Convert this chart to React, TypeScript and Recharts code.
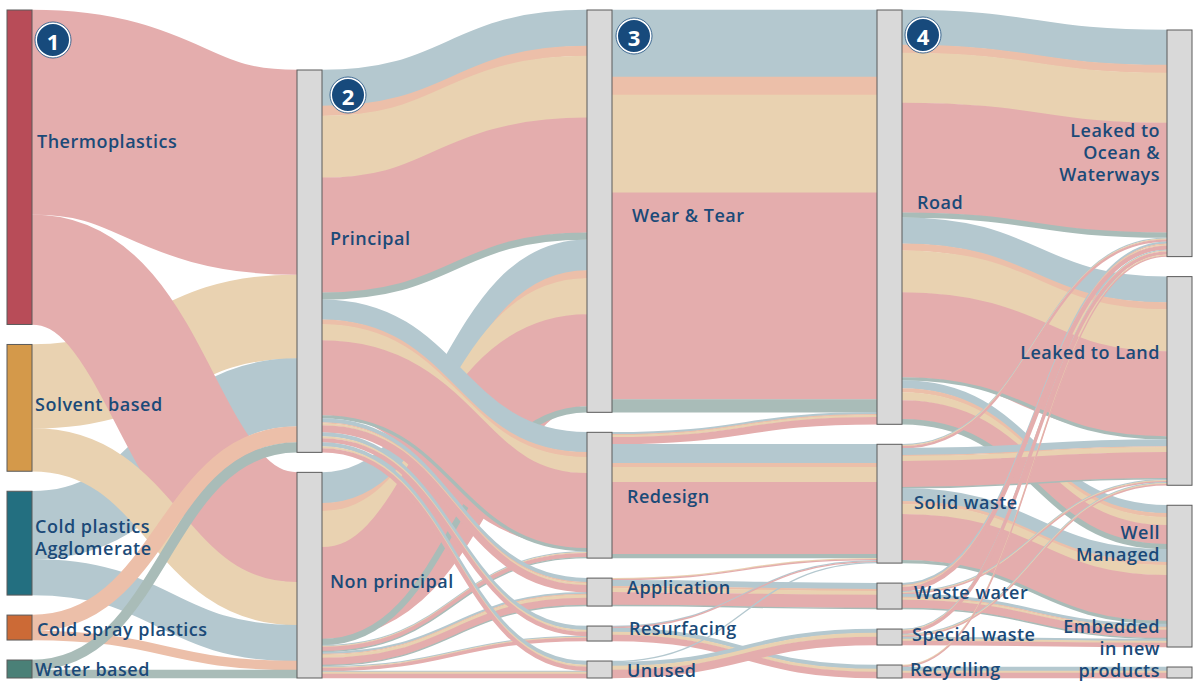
import React from 'react';
import { Sankey } from 'recharts';

// ---------- DATA ----------
const nodeNames = [
  'Thermoplastics', 'Solvent based', 'Cold plastics Agglomerate', 'Cold spray plastics', 'Water based',
  'Principal', 'Non principal',
  'Wear & Tear', 'Redesign', 'Application', 'Resurfacing', 'Unused',
  'Road', 'Solid waste', 'Waste water', 'Special waste', 'Recyclling',
  'Leaked to Ocean & Waterways', 'Leaked to Land', 'Well Managed', 'Embedded in new products',
];

// material order inside every band: Cold plastics, Cold spray, Solvent, Thermoplastics, Water based
const materials = ['Cold plastics Agglomerate', 'Cold spray plastics', 'Solvent based', 'Thermoplastics', 'Water based'];

type Flow = [string, string, number[]];

const stage1Flows: Flow[] = [
  ['Solvent based', 'Principal', [0, 0, 84, 0, 0]],
  ['Cold plastics Agglomerate', 'Principal', [68, 0, 0, 0, 0]],
  ['Thermoplastics', 'Principal', [0, 0, 0, 205, 0]],
  ['Thermoplastics', 'Non principal', [0, 0, 0, 110, 0]],
  ['Solvent based', 'Non principal', [0, 0, 43, 0, 0]],
  ['Cold plastics Agglomerate', 'Non principal', [36, 0, 0, 0, 0]],
  ['Cold spray plastics', 'Non principal', [0, 9, 0, 0, 0]],
  ['Water based', 'Non principal', [0, 0, 0, 0, 8]],
  ['Cold spray plastics', 'Principal', [0, 16, 0, 0, 0]],
  ['Water based', 'Principal', [0, 0, 0, 0, 10]],
];

const stage2Flows: Flow[] = [
  ['Non principal', 'Wear & Tear', [31, 8, 36, 92, 6]],
  ['Non principal', 'Redesign', [1, 0, 1, 4, 1]],
  ['Non principal', 'Application', [2, 1, 3, 7, 1]],
  ['Non principal', 'Resurfacing', [1, 0, 1, 3, 0]],
  ['Non principal', 'Unused', [1, 0, 2, 4, 0]],
  ['Principal', 'Wear & Tear', [36, 10, 62, 115, 7]],
  ['Principal', 'Redesign', [20, 5, 16, 75, 3]],
  ['Principal', 'Application', [4, 1, 2, 7, 0]],
  ['Principal', 'Resurfacing', [4, 0, 2, 4, 0]],
  ['Principal', 'Unused', [4, 0, 2, 4, 0]],
];

const stage3Flows: Flow[] = [
  ['Wear & Tear', 'Road', [67, 18, 98, 207, 13]],
  ['Redesign', 'Road', [2, 1, 2, 7, 0]],
  ['Redesign', 'Solid waste', [19, 4, 15, 72, 4]],
  ['Application', 'Solid waste', [0, 0, 1, 1, 0]],
  ['Application', 'Waste water', [6, 2, 4, 13, 1]],
  ['Resurfacing', 'Solid waste', [1, 0, 0, 1, 0]],
  ['Resurfacing', 'Recyclling', [4, 0, 3, 6, 0]],
  ['Unused', 'Solid waste', [1, 0, 0, 0, 0]],
  ['Unused', 'Special waste', [4, 0, 4, 8, 0]],
];

const stage4Flows: Flow[] = [
  ['Road', 'Leaked to Ocean & Waterways', [35, 8, 50, 110, 5]],
  ['Road', 'Leaked to Land', [26, 7, 42, 85, 3]],
  ['Road', 'Well Managed', [8, 4, 8, 19, 5]],
  ['Solid waste', 'Leaked to Ocean & Waterways', [1, 0, 1, 2, 0]],
  ['Solid waste', 'Leaked to Land', [7, 1, 5, 26, 1]],
  ['Solid waste', 'Well Managed', [13, 3, 10, 46, 3]],
  ['Waste water', 'Leaked to Ocean & Waterways', [2, 1, 1, 4, 0]],
  ['Waste water', 'Leaked to Land', [1, 0, 1, 1, 0]],
  ['Waste water', 'Well Managed', [3, 1, 2, 8, 1]],
  ['Special waste', 'Leaked to Ocean & Waterways', [1, 0, 1, 3, 0]],
  ['Special waste', 'Leaked to Land', [1, 0, 1, 1, 0]],
  ['Special waste', 'Well Managed', [2, 0, 2, 4, 0]],
  ['Recyclling', 'Leaked to Ocean & Waterways', [0, 0, 1, 1, 0]],
  ['Recyclling', 'Embedded in new products', [4, 0, 2, 5, 0]],
];

const badgeLabels: Record<string, string> = {
  'Thermoplastics': '1',
  'Principal': '2',
  'Wear & Tear': '3',
  'Road': '4',
};

const labelLines: Record<string, string[]> = {
  'Cold plastics Agglomerate': ['Cold plastics', 'Agglomerate'],
  'Leaked to Ocean & Waterways': ['Leaked to', 'Ocean &', 'Waterways'],
  'Well Managed': ['Well', 'Managed'],
  'Embedded in new products': ['Embedded', 'in new', 'products'],
};

const lastColumn = ['Leaked to Ocean & Waterways', 'Leaked to Land', 'Well Managed', 'Embedded in new products'];

// ---------- STYLES ----------
const materialColors = ['#b4c8cf', '#ecbfa9', '#e9d2b1', '#e4adad', '#a9bcb8'];
const nodeFill: Record<string, string> = {
  'Thermoplastics': '#b84c58',
  'Solvent based': '#d4994a',
  'Cold plastics Agglomerate': '#236f80',
  'Cold spray plastics': '#cc6a36',
  'Water based': '#4a8077',
};
const labelStyle: Record<string, { dx: number; dy: number }> = {
  'Thermoplastics': { dx: 5, dy: -26 },
  'Solvent based': { dx: 3, dy: -4 },
  'Cold plastics Agglomerate': { dx: 3, dy: -6 },
  'Cold spray plastics': { dx: 5, dy: 1 },
  'Water based': { dx: 3, dy: 0 },
  'Principal': { dx: 8, dy: -23 },
  'Non principal': { dx: 8, dy: 6 },
  'Wear & Tear': { dx: 20, dy: 4 },
  'Redesign': { dx: 15, dy: 1 },
  'Application': { dx: 15, dy: -5 },
  'Resurfacing': { dx: 17, dy: -6 },
  'Unused': { dx: 15, dy: 0 },
  'Road': { dx: 15, dy: -15 },
  'Solid waste': { dx: 12, dy: -2 },
  'Waste water': { dx: 12, dy: -4 },
  'Special waste': { dx: 10, dy: -3 },
  'Recyclling': { dx: 8, dy: -3 },
  'Leaked to Ocean & Waterways': { dx: -7, dy: 9 },
  'Leaked to Land': { dx: -7, dy: -29 },
  'Well Managed': { dx: -7, dy: -33 },
  'Embedded in new products': { dx: -7, dy: -25 },
};
const badgeOffset: Record<string, { dx: number; dy: number }> = {
  'Thermoplastics': { dx: 21, dy: 30 },
  'Principal': { dx: 26, dy: 25 },
  'Wear & Tear': { dx: 22, dy: 26 },
  'Road': { dx: 21, dy: 25 },
};
const textColor = '#1b4a78';
const fontFamily = "'Open Sans', 'DejaVu Sans', sans-serif";

// ---------- BUILD ----------
const idx = (n: string) => nodeNames.indexOf(n);
const allFlows = [...stage1Flows, ...stage2Flows, ...stage3Flows, ...stage4Flows];
const links: { source: number; target: number; value: number; m: number }[] = [];
allFlows.forEach(([s, t, vals]) => {
  vals.forEach((v, m) => {
    if (v > 0) links.push({ source: idx(s), target: idx(t), value: v, m });
  });
});
const data = { nodes: nodeNames.map((name) => ({ name })), links };

const LinkShape = (props: any) => {
  const { sourceX, targetX, sourceY, targetY, sourceControlX, targetControlX, linkWidth, payload } = props;
  const m = payload?.m ?? 0;
  return (
    <path
      d={`M${sourceX},${sourceY}C${sourceControlX},${sourceY} ${targetControlX},${targetY} ${targetX},${targetY}`}
      fill="none"
      stroke={materialColors[m]}
      strokeWidth={Math.max(linkWidth + 0.4, 1)}
    />
  );
};

const NodeShape = (props: any) => {
  const { x, y, width, height, payload } = props;
  const name: string = payload.name;
  const fill = nodeFill[name] ?? '#d9d9d9';
  const lastCol = lastColumn.includes(name);
  const st = labelStyle[name] ?? { dx: 8, dy: 0 };
  const lines = labelLines[name] ?? [name];
  const lh = 22;
  const cy = y + height / 2 + st.dy;
  const tx = lastCol ? x + st.dx : x + width + st.dx;
  const badge = badgeLabels[name];
  const bo = badgeOffset[name];
  return (
    <g>
      <rect x={x} y={y} width={width} height={height} fill={fill} stroke="#5a5a5a" strokeWidth={1} />
      <text
        x={tx}
        y={cy - ((lines.length - 1) * lh) / 2}
        textAnchor={lastCol ? 'end' : 'start'}
        dominantBaseline="central"
        fill={textColor}
        fontFamily={fontFamily}
        fontWeight={600}
        fontSize={18}
        letterSpacing={0.5}
      >
        {lines.map((l, i) => (
          <tspan key={i} x={tx} dy={i === 0 ? 0 : lh}>{l}</tspan>
        ))}
      </text>
      {badge && bo && (
        <g>
          <circle cx={x + width + bo.dx} cy={y + bo.dy} r={17} fill="#174a7c" stroke="#ffffff" strokeWidth={2} />
          <circle cx={x + width + bo.dx} cy={y + bo.dy} r={18} fill="none" stroke="#174a7c" strokeWidth={0.8} />
          <text
            x={x + width + bo.dx}
            y={y + bo.dy + 1}
            textAnchor="middle"
            dominantBaseline="central"
            fill="#ffffff"
            fontFamily={fontFamily}
            fontWeight={700}
            fontSize={22}
          >
            {badge}
          </text>
        </g>
      )}
    </g>
  );
};

export default function App() {
  return (
    <div style={{ position: 'absolute', left: 0, top: 0, width: 1198, height: 682, background: '#ffffff' }}>
      <Sankey
        width={1198}
        height={682}
        data={data}
        margin={{ top: 10, right: 6, bottom: 4, left: 7 }}
        nodeWidth={25}
        nodePadding={20}
        iterations={32}
        sort={false}
        link={(p: any) => <LinkShape {...p} />}
        node={(p: any) => <NodeShape {...p} />}
      />
    </div>
  );
}
